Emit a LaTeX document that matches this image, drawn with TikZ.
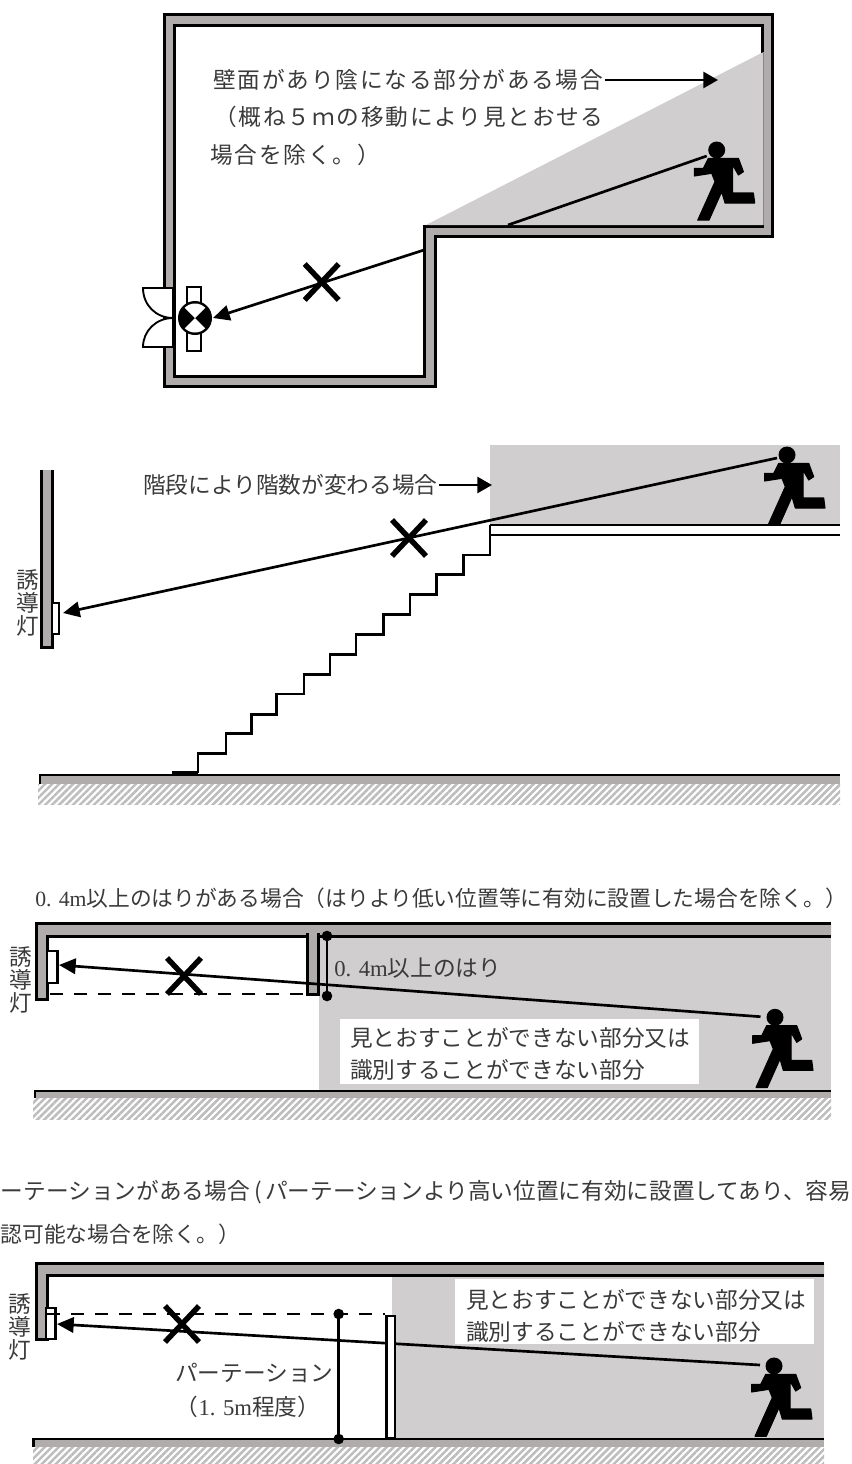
\documentclass[tikz,border=0pt]{standalone}
\usepackage{fontspec}
\setmainfont{Noto Sans CJK JP}
\newfontfamily\latinfont{Liberation Serif}
\usepackage{tikz}
\usetikzlibrary{arrows.meta}
\usetikzlibrary{patterns.meta}
\definecolor{wallgrey}{HTML}{B0ACAC}
\definecolor{shadegrey}{HTML}{D0CECE}
\definecolor{hatchgrey}{HTML}{BDBDBD}
\definecolor{inkgrey}{HTML}{3A3A3A}
\newcommand{\wide}[1]{{\addfontfeature{LetterSpace=8}#1}}
\tikzset{
  wall/.style={draw=black,fill=wallgrey,line width=2.25pt,miter limit=4},
  shade/.style={fill=shadegrey},
  hatch/.style={pattern={Lines[angle=45,distance=3.7pt,line width=1.9pt]},pattern color=hatchgrey},
  note/.style={inner sep=0pt,text=inkgrey,font=\fontsize{17pt}{24pt}\selectfont,align=left,anchor=west},
  headline/.style={note,font=\fontsize{16.3pt}{24pt}\selectfont},
  lampname/.style={inner sep=0pt,text=inkgrey,font=\fontsize{17pt}{17pt}\selectfont,align=center},
  sight/.style={draw=black,line width=2pt,-{Triangle[length=12.5pt,width=11.5pt]}},
  leader/.style={draw=black,line width=2pt,-{Triangle[length=11pt,width=12pt]}},
  thick line/.style={draw=black,line width=2pt},
  lampbox/.style={draw=black,fill=white,line width=1.9pt},
  dashline/.style={draw=black,line width=2.2pt,dash pattern=on 10 off 8},
  pics/crossmark/.style={code={
    \draw[line width=4.1pt] (-17,-18) -- (17,18);
    \draw[line width=4.1pt] (17,-18) -- (-17,18);
  }},
  pics/dot/.style={code={\fill (0,0) circle[radius=5.3];}},
  pics/runner/.style={code={
    \fill (0,0) circle[radius=8.5];
    \filldraw[line width=0.8pt,line join=round] (-8.3,8.3) -- (21.7,8.3) -- (26.7,21.7) -- (21.7,25) -- (16,15) -- (16,43) -- (36.7,43)
      -- (38,53) -- (8.3,53) -- (5,41.7) -- (-7.7,70.2) -- (-19,70.2) -- (-1.7,31.7) -- (-5,23.3)
      -- (-22.3,26) -- (-22.3,18.3) -- (-13.3,18.3) -- cycle;
  }},
  pics/exitlamp/.style={code={
    \draw[lampbox] (-8,-31) rectangle (6,33);
    \fill (0,0) circle[radius=17];
    \fill[white] (0,0) -- (45:14.5) arc[start angle=45,end angle=135,radius=14.5] -- cycle;
    \fill[white] (0,0) -- (225:14.5) arc[start angle=225,end angle=315,radius=14.5] -- cycle;
  }}
}

\begin{document}
\begin{tikzpicture}[x=0.75pt,y=-0.75pt]
  \useasboundingbox (0,0) rectangle (851,1464);
  %room
  \draw[wall,even odd rule] (164,14) -- (772,14) -- (772,236) -- (435,236) -- (435,386) -- (164,386) -- cycle
    (174,25) -- (762,25) -- (762,226) -- (424,226) -- (424,376) -- (174,376) -- cycle;
  \fill[shade] (426,225) -- (763.5,52) -- (763.5,225) -- cycle;
  %doors
  \draw[lampbox,line width=1.4pt] (173,288) -- (143,288) .. controls (143,305) and (156,318) .. (173,318) -- cycle;
  \draw[lampbox,line width=1.4pt] (173,318) .. controls (156,318) and (143,331) .. (143,347) -- (173,347) -- cycle;
  \pic[at={(195,318)}] {exitlamp};
  %shaded corner
  \node[note,at={(213,80)}] (cornernote) {\wide{壁面があり陰になる部分がある場合}};
  \node[note,at={(214,117)}] (cornernotea) {\wide{（概ね５ｍの移動により見とおせる}};
  \node[note,at={(210,155)}] (cornernoteb) {\wide{場合を除く。）}};
  \coordinate (cornertip) at (718,0);
  \draw[leader] ([xshift=1pt]cornernote.east) -- (cornernote.east -| cornertip);
  \pic[at={(716.7,150)}] {runner};
  \coordinate (eyeA) at (706.7,156);
  \coordinate (stepA) at (508,225);
  \coordinate (wallA) at (424,250);
  \coordinate (tipA) at (213,318);
  \draw[thick line] (eyeA) -- (stepA);
  \draw[sight] (wallA) -- (tipA);
  \pic[at={(321.7,282)}] {crossmark};

  %stairs
  \draw[wall] (41.5,470) -- (41.5,647) -- (52,647) -- (52,470);
  \draw[lampbox] (52,603) rectangle (59,634);
  \node[lampname,at={(27.5,603)}] (lampnameB) {誘\\導\\灯};
  \fill[shade] (490,445) rectangle (840,525);
  \draw[black,line width=1pt] (490,525) -- (840,525);
  \draw[thick line] (490,525) -- (490,555) -- (463.4,555) -- (463.4,574.5) -- (436.3,574.5) -- (436.3,594.3)
    -- (410,594.3) -- (410,614.3) -- (383.6,614.3) -- (383.6,634.3) -- (356,634.3) -- (356,654.3) -- (330,654.3)
    -- (330,674.3) -- (304,674.3) -- (304,694) -- (276.7,694) -- (276.7,714.3) -- (251.7,714.3) -- (251.7,733.7)
    -- (226,733.7) -- (226,753.7) -- (198,753.7) -- (198,773);
  \draw[thick line] (490,535) -- (840,535);
  \draw[black,line width=2.6pt] (172,773) -- (198,773);
  \node[note,at={(143,485)}] (stairsnote) {階段により階数が変わる場合};
  \coordinate (stairstip) at (492,0);
  \draw[leader] ([xshift=1pt]stairsnote.east) -- (stairsnote.east -| stairstip);
  \pic[at={(787,455)}] {runner};
  \coordinate (eyeB) at (777,458);
  \coordinate (tipB) at (63,613);
  \draw[sight] (eyeB) -- (tipB);
  \pic[at={(409,538)}] {crossmark};
  %floor
  \fill[hatch] (38,784) rectangle (840,804);
  \fill[wallgrey] (40,775) rectangle (840,784);
  \draw[thick line] (40,784) -- (40,775) -- (840,775);

  %beam
  \node[headline,at={(35,898)}] (beamhead) {{\latinfont 0. 4m}以上のはりがある場合（はりより低い位置等に有効に設置した場合を除く。）};
  \fill[shade] (319,938) rectangle (831,1090);
  \draw[wall] (831,923.5) -- (36,923.5) -- (36,999.5) -- (47,999.5) -- (47,936) -- (831,936);
  \draw[wall] (307,933) -- (307,994) -- (318,994) -- (318,933);
  \draw[lampbox] (47,951) rectangle (57.5,983);
  \node[lampname,at={(21,980)}] (lampnameC) {誘\\導\\灯};
  \draw[dashline] (50,994) -- (306,994);
  \coordinate (beamtop) at (327,936);
  \coordinate (beambottom) at (327,996);
  \draw[thick line] (beamtop) -- (beambottom);
  \pic[at=(beamtop)] {dot};
  \pic[at=(beambottom)] {dot};
  \node[note,at={(334,968)}] (beamnote) {{\latinfont 0. 4m}以上のはり};
  \fill[white] (340,1019) rectangle (699,1084);
  \node[note,at={(350,1054)}] (hiddenC) {見とおすことができない部分又は\\識別することができない部分};
  %floor
  \fill[hatch] (33,1098) rectangle (831,1119);
  \fill[wallgrey] (35,1091) rectangle (831,1098);
  \draw[thick line] (35,1098) -- (35,1091) -- (831,1091);
  \pic[at={(775,1017.3)}] {runner};
  \coordinate (eyeC) at (760.5,1016.7);
  \coordinate (tipC) at (59,965);
  \draw[sight] (eyeC) -- (tipC);
  \pic[at={(184,976)}] {crossmark};

  %partition
  \node[headline,at={(0.5,1192)},font=\fontsize{17pt}{24pt}\selectfont] (parthead) {ーテーションがある場合 (\hspace{2pt}パーテーションより高い位置に有効に設置してあり、容易};
  \node[headline,at={(0.5,1234)}] (partheadb) {認可能な場合を除く。）};
  \fill[shade] (392,1277) rectangle (824,1438);
  \draw[wall] (824,1263.3) -- (36,1263.3) -- (36,1339) -- (47,1339) -- (47,1275) -- (824,1275);
  \draw[lampbox] (46,1308) rectangle (55.5,1339);
  \node[lampname,at={(20,1327)}] (lampnameD) {誘\\導\\灯};
  \fill[white] (455,1279) rectangle (814,1344);
  \node[note,at={(466,1316)}] (hiddenD) {見とおすことができない部分又は\\識別することができない部分};
  \draw[dashline] (47,1314) -- (385,1314);
  %floor
  \fill[hatch] (33,1447) rectangle (824,1464);
  \fill[wallgrey] (33.5,1439) rectangle (824,1447);
  \draw[thick line] (33.5,1447) -- (33.5,1439) -- (824,1439);
  \pic[at={(774,1366)}] {runner};
  \coordinate (eyeD) at (760,1365);
  \coordinate (tipD) at (57,1324);
  \draw[sight] (eyeD) -- (tipD);
  \draw[lampbox] (386.7,1316) rectangle (395,1438);
  \pic[at={(182,1324)}] {crossmark};
  \coordinate (parttop) at (338.7,1314);
  \coordinate (partbottom) at (338.7,1439);
  \draw[thick line] (parttop) -- (partbottom);
  \pic[at=(parttop)] {dot};
  \pic[at=(partbottom)] {dot};
  \node[note,at={(175,1373)}] (partnote) {パーテーション};
  \node[note,anchor=center,at={(248,1407)}] (partnotea) {（{\latinfont 1. 5m}程度）};
\end{tikzpicture}
\end{document}
